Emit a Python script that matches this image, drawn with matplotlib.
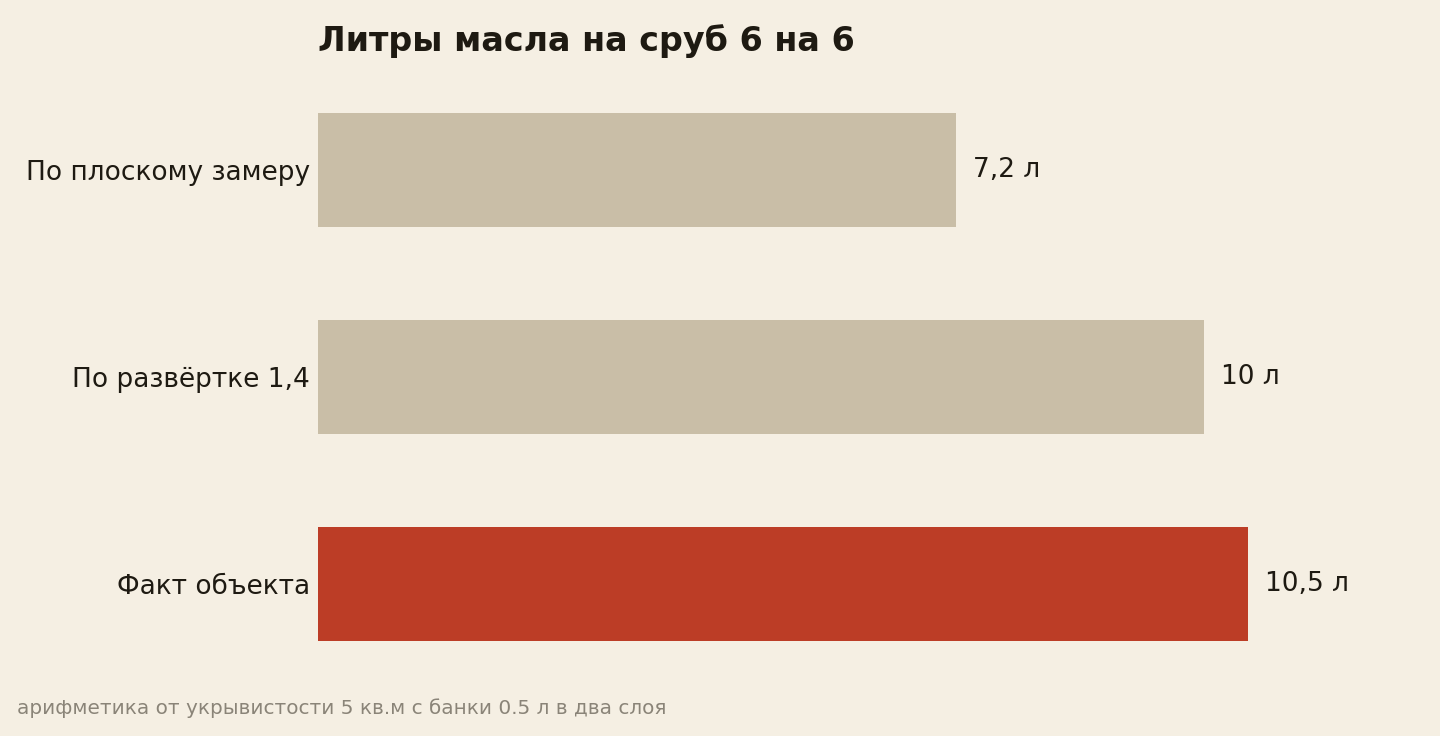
import matplotlib
matplotlib.use("Agg")
import matplotlib.pyplot as plt

# данные
categories = ["По плоскому замеру", "По развёртке 1,4", "Факт объекта"]
values = [7.2, 10.0, 10.5]
value_labels = ["7,2 л", "10 л", "10,5 л"]
bar_colors = ["#c9bea7", "#c9bea7", "#bc3d26"]

BG = "#f5efe3"
INK = "#1e1a12"

plt.rcParams['font.family'] = ['DejaVu Sans']

fig = plt.figure(figsize=(14.4, 7.36), dpi=100, facecolor=BG)
ax = fig.add_axes([318 / 1440, 1 - 687.5 / 736, (1400 - 318) / 1440, 621 / 736])
ax.set_facecolor(BG)

ypos = list(range(len(categories)))
ax.barh(ypos, values, height=0.55, color=bar_colors)
ax.set_xlim(0, (1400 - 318) / 88.6)
ax.set_ylim(2.5, -0.5)

for y, v, lab in zip(ypos, values, value_labels):
    ax.annotate(lab, (v, y), xytext=(12, 0), textcoords="offset points",
                ha="left", va="center", fontsize=19, color=INK)

ax.set_yticks(ypos)
ax.set_yticklabels(categories, fontsize=19, color=INK)
ax.tick_params(axis="y", length=0, pad=6)
ax.set_xticks([])
for s in ax.spines.values():
    s.set_visible(False)

fig.text(318 / 1440, 1 - 41 / 736, "Литры масла на сруб 6 на 6", fontsize=24,
         fontweight="bold", color=INK, ha="left", va="center")
fig.text(17 / 1440, 1 - 708 / 736,
         "арифметика от укрывистости 5 кв.м с банки 0.5 л в два слоя",
         fontsize=14.4, color="#8a8478", ha="left", va="center")

fig.savefig("out.png", dpi=100, facecolor=BG)
